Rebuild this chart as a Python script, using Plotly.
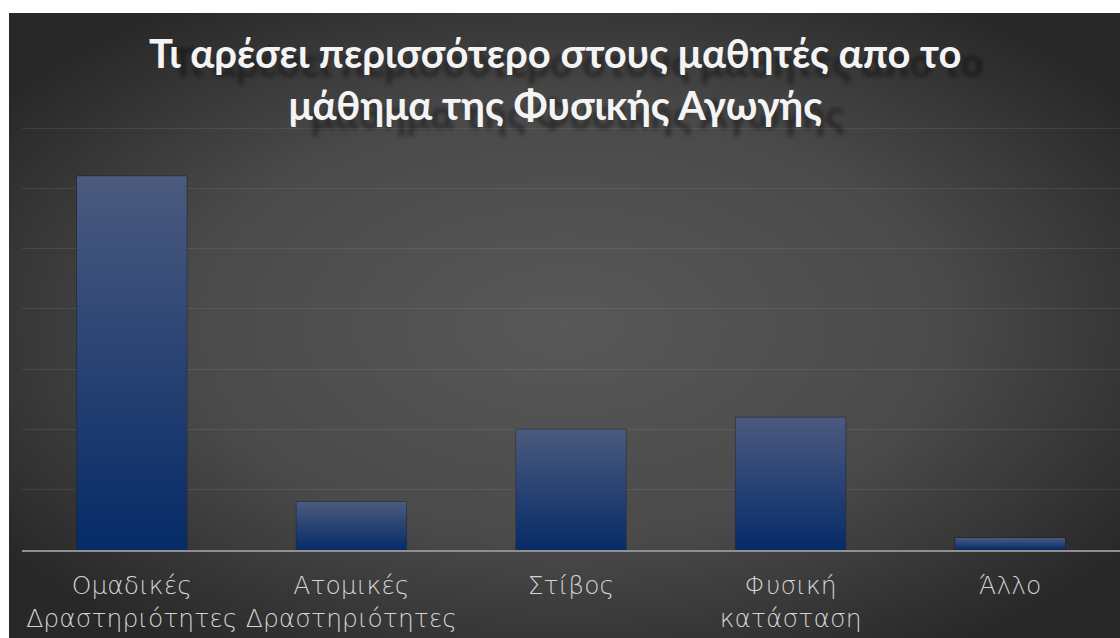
import base64
import plotly.graph_objects as go

# ---- data ----
categories = ["Ομαδικές<br>Δραστηριότητες", "Ατομικές<br>Δραστηριότητες", "Στίβος",
              "Φυσική<br>κατάσταση", "Άλλο"]
values = [62, 8, 20, 22, 2]
title_text = "Τι αρέσει περισσότερο στους μαθητές απο το<br>μάθημα της Φυσικής Αγωγής"

W, H = 1120, 638
ML, MR, MT, MB = 22, 0, 125, 88
Y_MAX = 70.5
BAR_W = 0.5
TOP_COL = "#4b5a7e"
BOT_COL = "#062b68"

positions = list(range(len(categories)))

fig = go.Figure()

# bars (data marks)
fig.add_trace(go.Bar(
    x=positions, y=values, width=BAR_W,
    marker=dict(color="#1d3a70", line=dict(color="rgba(10,10,20,0.35)", width=1.5)),
    hoverinfo="skip", showlegend=False,
))

# gradient overlay for each bar, built from the same data
for p, v in zip(positions, values):
    x0, x1 = p - BAR_W / 2, p + BAR_W / 2
    fig.add_trace(go.Scatter(
        x=[x0, x1, x1, x0, x0], y=[0, 0, v, v, 0],
        mode="lines", fill="toself", line=dict(width=0),
        fillgradient=dict(type="vertical", start=0, stop=v,
                          colorscale=[[0, BOT_COL], [1, TOP_COL]]),
        hoverinfo="skip", showlegend=False,
    ))

# radial background
svg = f"""<svg xmlns='http://www.w3.org/2000/svg' width='{W}' height='{H}' viewBox='0 0 {W} {H}' preserveAspectRatio='none'>
<defs><radialGradient id='g' cx='50%' cy='50%' r='62%' fx='50%' fy='50%'>
<stop offset='0' stop-color='#585858'/><stop offset='0.55' stop-color='#4a4a4a'/><stop offset='1' stop-color='#282828'/>
</radialGradient></defs>
<rect width='{W}' height='{H}' fill='url(#g)'/></svg>"""
src = "data:image/svg+xml;base64," + base64.b64encode(svg.encode()).decode()

pw = W - ML - MR
ph = H - MT - MB
img_left, img_top = 9, 13
fig.add_layout_image(dict(
    source=src, xref="paper", yref="paper",
    x=(img_left - ML) / pw, y=(H - MB - img_top) / ph,
    sizex=(W - img_left) / pw, sizey=(H - img_top) / ph,
    xanchor="left", yanchor="top", sizing="stretch", layer="below",
))

# title as annotation for precise placement
title_center_px = 79
fig.add_annotation(
    text=title_text, xref="paper", yref="paper",
    x=(555 - ML) / pw, y=(H - MB - title_center_px) / ph,
    xanchor="center", yanchor="middle", showarrow=False, align="center",
    font=dict(family="Lato", size=40, color="#f4f4f4", weight="bold",
              shadow="22px 9px 4px rgba(0,0,0,0.4)"),
)

fig.update_layout(
    width=W, height=H,
    margin=dict(l=ML, r=MR, t=MT, b=MB, pad=0, autoexpand=False),
    paper_bgcolor="white", plot_bgcolor="rgba(0,0,0,0)",
    showlegend=False,
    bargap=0.5,
)

fig.update_xaxes(
    range=[-0.5, len(categories) - 0.5],
    tickvals=positions, ticktext=categories,
    showgrid=False, zeroline=False,
    showline=True, linecolor="#8f8f8f", linewidth=2,
    ticks="", ticklabelstandoff=12, tickangle=0, automargin=False,
    tickfont=dict(family="DejaVu Sans", size=25, color="#d4d4d4", weight=200),
)
fig.update_yaxes(
    range=[0, Y_MAX], tickvals=[10, 20, 30, 40, 50, 60, 70], showticklabels=False,
    showgrid=True, gridcolor="rgba(255,255,255,0.08)", gridwidth=1,
    zeroline=False, showline=False, ticks="", automargin=False,
)

fig.write_html("out.html")
